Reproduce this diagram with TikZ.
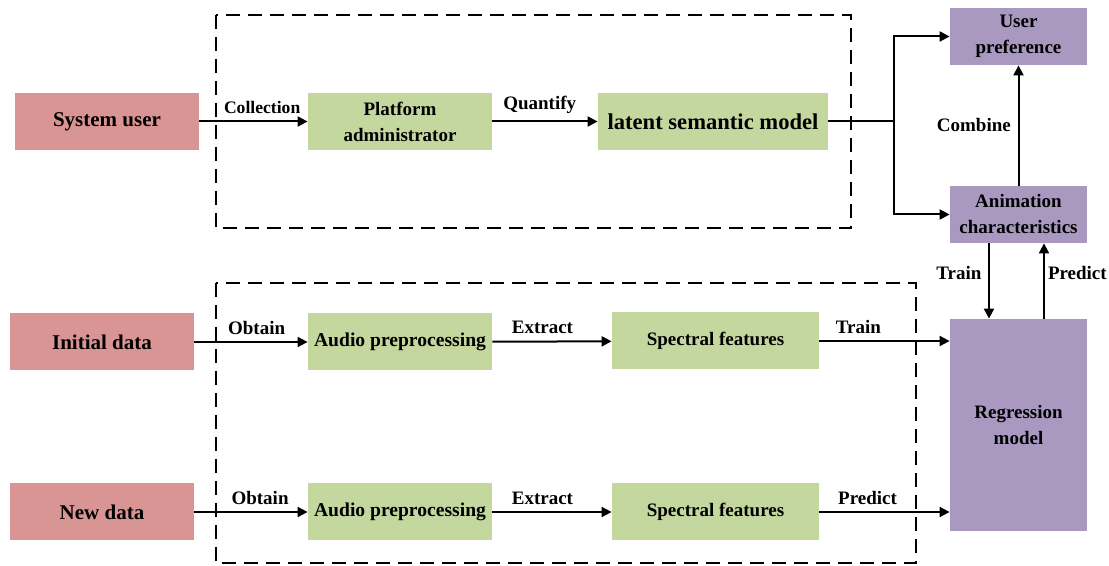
\documentclass[tikz,border=0pt]{standalone}
\usepackage{fontspec}
\setmainfont{Liberation Serif}
\usetikzlibrary{arrows.meta}
\definecolor{userred}{RGB}{217,149,147}
\definecolor{procgreen}{RGB}{196,215,158}
\definecolor{modelpurple}{RGB}{169,153,192}

\begin{document}
\begin{tikzpicture}[x=0.5pt, y=-0.5pt, font=\fontsize{9.5}{13}\selectfont\bfseries,
	box/.style={inner sep=0pt, minimum height=28.5pt, align=center},
	src/.style={box, fill=userred, minimum width=92pt, font=\fontsize{10.5}{13}\selectfont\bfseries},
	proc/.style={box, fill=procgreen, minimum width=92pt},
	model/.style={box, fill=modelpurple, minimum width=68.5pt},
	arr/.style={-{Triangle[length=5pt,width=5pt]}, line width=1pt},
	group/.style={line width=1pt, dash pattern=on 7pt off 4pt}]
	\useasboundingbox (0,0) rectangle (1109,566);

	% dashed groups
	\draw[group] (216,15) rectangle (851,228);
	\draw[group] (216,283) rectangle (916,563);

	% upper branch
	\node[src] (user) at (107,121.5) {System user};
	\node[proc] (admin) at (400,121.5) {Platform\\administrator};
	\node[proc, minimum width=115pt, font=\fontsize{11.3}{13}\selectfont\bfseries] (lsm) at (713,121.5) {latent semantic model};
	\node[model] (pref) at (1018.5,36.5) {User\\preference};
	\node[model] (anim) at (1018.5,214.5) {Animation\\characteristics};

	% lower branches
	\node[src] (init) at (102,342) {Initial data};
	\node[src] (new) at (102,512) {New data};
	\node[proc, font=\fontsize{9.8}{13}\selectfont\bfseries] (audioA) at (400,342) {Audio preprocessing};
	\node[proc, font=\fontsize{9.8}{13}\selectfont\bfseries] (audioB) at (400,512) {Audio preprocessing};
	\node[proc, minimum width=103.5pt] (specA) at (715.5,341) {Spectral features};
	\node[proc, minimum width=103.5pt] (specB) at (715.5,512) {Spectral features};
	\node[model, minimum height=106pt] (reg) at (1018.5,425) {Regression\\model};

	\draw[arr] (user) -- node[above, pos=0.58, font=\fontsize{8.8}{10}\selectfont\bfseries] {Collection} (admin);
	\draw[arr] (admin) -- node[above, pos=0.45] {Quantify} (lsm);
	\coordinate (split) at (894,121.5);
	\draw[line width=1pt] (lsm) -- (split);
	\draw[arr] (split) |- (pref);
	\draw[arr] (split) |- (anim);
	\draw[arr] (anim) -- node[left] {Combine} (pref);

	\draw[arr] (init) -- node[above, pos=0.55] {Obtain} (audioA);
	\draw[arr] (new) -- node[above, pos=0.58] {Obtain} (audioB);
	\draw[arr] (audioA) -- node[above, pos=0.42] {Extract} (specA);
	\draw[arr] (audioB) -- node[above, pos=0.42] {Extract} (specB);
	\draw[arr] (specA) -- node[above, pos=0.3] {Train} (specA -| reg.west);
	\draw[arr] (specB) -- node[above, pos=0.37] {Predict} (specB -| reg.west);

	\coordinate (trainTop) at ([xshift=-14.75pt]anim.south);
	\coordinate (predTop) at ([xshift=12.75pt]anim.south);
	\draw[arr] (trainTop) -- node[left, pos=0.4] {Train} (trainTop |- reg.north);
	\draw[arr] (predTop |- reg.north) -- node[right, pos=0.6, inner sep=1.5pt] {Predict} (predTop);
\end{tikzpicture}
\end{document}
